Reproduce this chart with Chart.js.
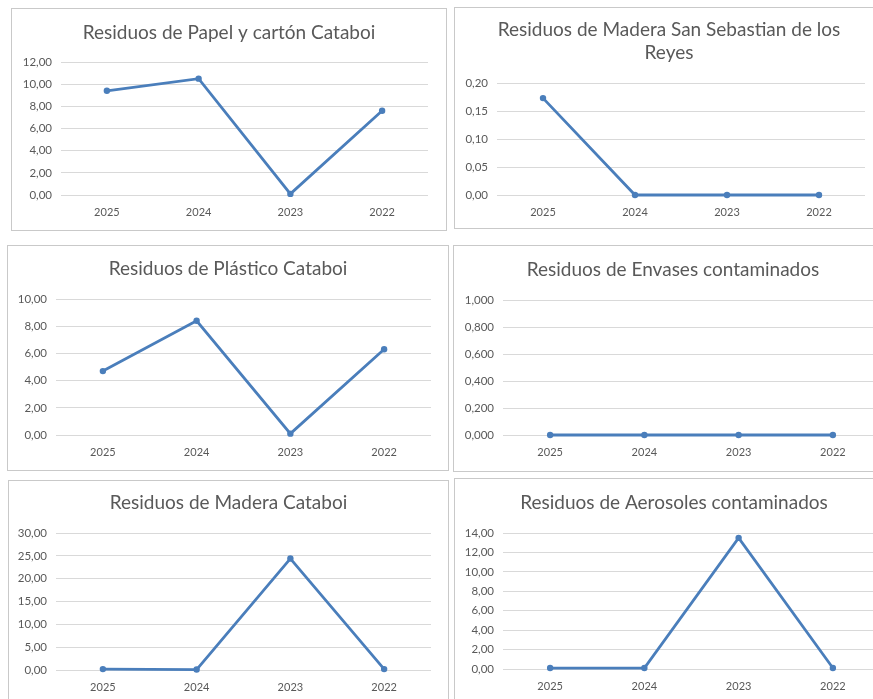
<!DOCTYPE html>
<html>
<head>
<meta charset="utf-8">
<script src="https://cdn.jsdelivr.net/npm/chart.js@4/dist/chart.umd.min.js"></script>
<style>
  html, body { margin: 0; padding: 0; background: #fff; overflow: hidden; }
  body { width: 873px; height: 699px; position: relative; }
  .panel { position: absolute; border: 1px solid #c9c9c9; background: #fff; }
  .panel canvas { display: block; }
</style>
</head>
<body>
<div class="panel" id="p1"><canvas id="c1"></canvas></div>
<div class="panel" id="p2"><canvas id="c2"></canvas></div>
<div class="panel" id="p3"><canvas id="c3"></canvas></div>
<div class="panel" id="p4"><canvas id="c4"></canvas></div>
<div class="panel" id="p5"><canvas id="c5"></canvas></div>
<div class="panel" id="p6"><canvas id="c6"></canvas></div>
<script>
const years = ['2025', '2024', '2023', '2022'];

const papel = [9.4, 10.5, 0.1, 7.6];
const maderaSanSebastian = [0.173, 0, 0, 0];
const plastico = [4.7, 8.4, 0.1, 6.3];
const envases = [0, 0, 0, 0];
const maderaCataboi = [0.2, 0.1, 24.4, 0.2];
const aerosoles = [0.1, 0.1, 13.5, 0.1];

const lineColor = '#4a7ebb';
const textColor = '#595959';
const fontFamily = 'Lato, "Open Sans", sans-serif';

// panel box, canvas size, plot edges (canvas coords), title centre
const panels = [
    { id: 1, title: 'Residuos de Papel y cartón Cataboi', data: papel, max: 12, step: 2, dec: 2,
      box: [11, 8, 434, 221], plot: [49, 416, 53, 186], titleY: 24 },
    { id: 2, title: ['Residuos de Madera San Sebastian de los', 'Reyes'], data: maderaSanSebastian, max: 0.2, step: 0.05, dec: 2,
      box: [454, 7, 428, 220], plot: [42, 410, 75, 187], titleY: 22 },
    { id: 3, title: 'Residuos de Plástico Cataboi', data: plastico, max: 10, step: 2, dec: 2,
      box: [7, 245, 440, 224], plot: [48, 423, 53, 189], titleY: 23 },
    { id: 4, title: 'Residuos de Envases contaminados', data: envases, max: 1, step: 0.2, dec: 3,
      box: [453, 245, 438, 225], plot: [49, 426, 54, 189], titleY: 24 },
    { id: 5, title: 'Residuos de Madera Cataboi', data: maderaCataboi, max: 30, step: 5, dec: 2,
      box: [8, 480, 439, 228], plot: [47, 422, 52, 189], titleY: 22 },
    { id: 6, title: 'Residuos de Aerosoles contaminados', data: aerosoles, max: 14, step: 2, dec: 2,
      box: [454, 478, 438, 228], plot: [48, 425, 54, 190], titleY: 24 }
];

const titleLine = 23;

panels.forEach(p => {
    const div = document.getElementById('p' + p.id);
    const [bx, by, bw, bh] = p.box;
    div.style.left = bx + 'px';
    div.style.top = by + 'px';
    div.style.width = bw + 'px';
    div.style.height = bh + 'px';

    const canvas = document.getElementById('c' + p.id);
    canvas.width = bw;
    canvas.height = bh;

    const [L, R, T, B] = p.plot;
    const lines = Array.isArray(p.title) ? p.title.length : 1;
    const tTop = p.titleY - titleLine / 2;
    const tBottom = T - tTop - lines * titleLine;

    new Chart(canvas.getContext('2d'), {
        type: 'line',
        data: {
            labels: years,
            datasets: [{
                data: p.data,
                borderColor: lineColor,
                backgroundColor: lineColor,
                borderWidth: 2.8,
                pointRadius: 3.2,
                pointBorderWidth: 0,
                tension: 0,
                clip: false
            }]
        },
        options: {
            responsive: false,
            animation: false,
            layout: { padding: 0 },
            plugins: {
                legend: { display: false },
                tooltip: { enabled: false },
                title: {
                    display: true,
                    text: p.title,
                    color: textColor,
                    font: { family: fontFamily, size: 19, weight: 'normal', lineHeight: titleLine / 19 },
                    padding: { top: tTop, bottom: tBottom }
                }
            },
            scales: {
                x: {
                    offset: true,
                    grid: { display: false, drawTicks: false },
                    border: { display: false },
                    ticks: { color: textColor, font: { family: fontFamily, size: 11 }, padding: 11, maxRotation: 0 },
                    afterFit: s => { s.height = bh - B; }
                },
                y: {
                    min: 0,
                    max: p.max,
                    grid: { color: '#d9d9d9', lineWidth: 1, drawTicks: false },
                    border: { display: false },
                    ticks: {
                        stepSize: p.step,
                        color: textColor,
                        font: { family: fontFamily, size: 11.5 },
                        padding: 9,
                        callback: v => Number(v).toFixed(p.dec).replace('.', ',')
                    },
                    afterFit: s => { s.width = L; }
                },
                // empty right-hand spacer so the title stays centred on the whole panel
                spacer: {
                    position: 'right',
                    grid: { display: false, drawTicks: false },
                    border: { display: false },
                    ticks: { display: false },
                    afterFit: s => { s.width = bw - R; }
                }
            }
        }
    });
});
</script>
</body>
</html>
